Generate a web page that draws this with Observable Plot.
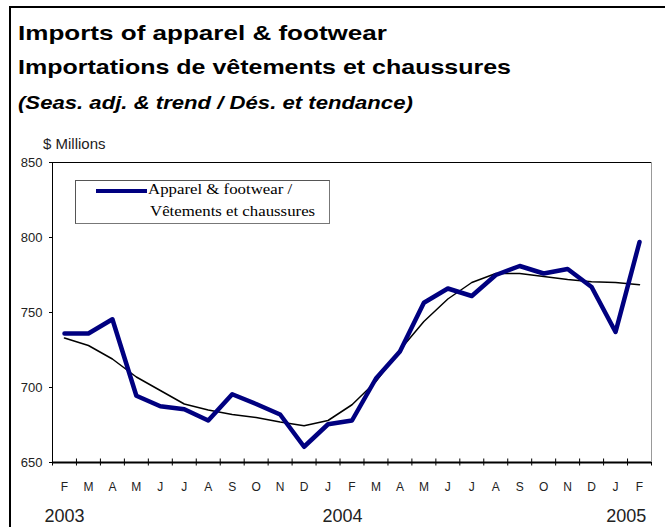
<!DOCTYPE html>
<html>
<head>
<meta charset="utf-8">
<script src="https://cdn.jsdelivr.net/npm/d3@7"></script>
<script src="https://cdn.jsdelivr.net/npm/@observablehq/plot@0.6"></script>
<style>
  html, body { margin: 0; padding: 0; background: white; }
  body { width: 665px; height: 527px; overflow: hidden; position: relative; font-family: "Liberation Sans", Arial, sans-serif; }
  .t { position: absolute; white-space: nowrap; transform-origin: 0 0; line-height: 1; color: #000; }
  #border { position: absolute; left: 9px; top: 6px; width: 720px; height: 620px; border-top: 2px solid #000; border-left: 2px solid #000; z-index: 10; pointer-events: none; }
  #header { position: relative; height: 150px; }
  #chart svg { display: block; background: transparent; }
  #legend { position: absolute; left: 75px; top: 180px; width: 253px; height: 42px; border: 1px solid #555; border-right-color: #777; border-bottom-color: #777; background: white; z-index: 5; }
  .lg { position: absolute; white-space: nowrap; font-family: "Liberation Serif", "Times New Roman", serif; font-size: 15px; line-height: 1; transform: scaleX(1.12); transform-origin: 0 0; color: #000; }
</style>
</head>
<body>
<div id="border"></div>
<div id="header">
  <div class="t" style="left:18px; top:22px; font-size:21px; font-weight:bold; transform:scaleX(1.24);">Imports of apparel &amp; footwear</div>
  <div class="t" style="left:18px; top:56px; font-size:21px; font-weight:bold; transform:scaleX(1.19);">Importations de vêtements et chaussures</div>
  <div class="t" style="left:18px; top:93px; font-size:19px; font-weight:bold; font-style:italic; transform:scaleX(1.165);">(Seas. adj. &amp; trend / Dés. et tendance)</div>
  <div class="t" style="left:43px; top:136px; font-size:15px; color:#222;">$ Millions</div>
</div>
<div id="chart"></div>
<div id="legend"></div>
<div style="position:absolute; left:96px; top:189px; width:51px; height:4px; background:#000080; z-index:6;"></div>
<div class="lg" style="left:148px; top:182px; z-index:6;">Apparel &amp; footwear /</div>
<div class="lg" style="left:150px; top:204px; z-index:6;">Vêtements et chaussures</div>
<script>
// Months Feb 2003 .. Feb 2005
const months = ["F","M","A","M","J","J","A","S","O","N","D","J","F","M","A","M","J","J","A","S","O","N","D","J","F"];
// Seasonally adjusted imports of apparel & footwear ($ millions)
const seasAdj = [736,736,745.5,694.5,687.5,685.5,678,695.5,689,682,660.5,675.5,678,706,724,756.5,766,761,775,781,776,779,767,737,797];
// Trend
const trend = [733,728,719,707,698,689,685,682,680,677,674.5,678,688.5,704,725,744,759,770,776,776,774,772,770.5,770,768.5];
const yTicks = [650,700,750,800,850];
const yearLabels = ["2003","2004","2005"];
const yearPos = [0, 11.6, 23.45];

const idx = d3.range(months.length);
const boundaries = d3.range(-0.5, months.length, 1);
const yearMap = new Map(yearPos.map((p, i) => [p, yearLabels[i]]));

const chart = Plot.plot({
  width: 665,
  height: 377,
  marginTop: 12,
  marginLeft: 52,
  marginRight: 14,
  marginBottom: 65,
  x: {domain: [-0.5, months.length - 0.5], axis: null},
  y: {domain: [650, 850], axis: null},
  style: {fontFamily: "Liberation Sans, Arial, sans-serif", color: "#222", background: "transparent", overflow: "visible"},
  marks: [
    Plot.axisY({ticks: yTicks, tickSize: 3, tickPadding: 7, fontSize: 13, tickFormat: d => String(d), stroke: "#000"}),
    Plot.axisX({ticks: boundaries, tickSize: 7, dy: -3.5, tickFormat: () => "", stroke: "#000"}),
    Plot.axisX({ticks: idx, tickSize: 0, tickPadding: 20, fontSize: 12, tickFormat: d => months[d]}),
    Plot.axisX({ticks: yearPos, tickSize: 0, tickPadding: 47, fontSize: 18, tickFormat: d => yearMap.get(d)}),
    Plot.frame({stroke: "#000"}),
    Plot.ruleX([months.length - 0.5], {stroke: "#999"}),
    Plot.ruleY([650], {stroke: "#000", strokeWidth: 2}),
    Plot.lineY(trend, {x: (d, i) => i, y: d => d, stroke: "#000", strokeWidth: 1.5}),
    Plot.lineY(seasAdj, {x: (d, i) => i, y: d => d, stroke: "#000080", strokeWidth: 4.5})
  ]
});
document.getElementById("chart").appendChild(chart);
</script>
</body>
</html>
